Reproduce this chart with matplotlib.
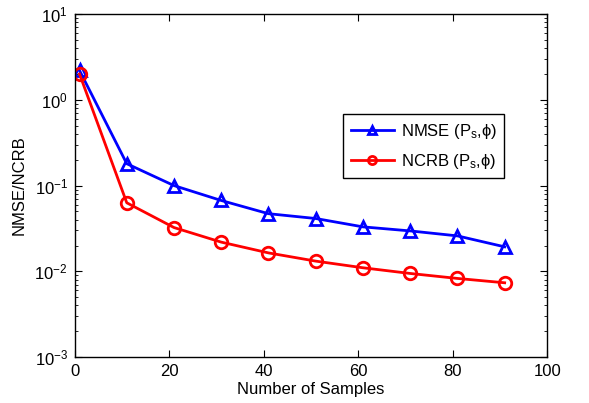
import matplotlib
matplotlib.use("Agg")
import matplotlib.pyplot as plt
import numpy as np

plt.rcParams['font.family'] = ['Liberation Sans', 'DejaVu Sans']
plt.rcParams['mathtext.fontset'] = 'custom'
plt.rcParams['mathtext.rm'] = 'Liberation Sans'
plt.rcParams['mathtext.it'] = 'Liberation Sans:italic'
plt.rcParams['font.size'] = 12

samples = [1, 11, 21, 31, 41, 51, 61, 71, 81, 91]
nmse = [2.2, 0.18, 0.10, 0.067, 0.047, 0.0413, 0.033, 0.0296, 0.0259, 0.0193]
ncrb = [2.0, 0.063, 0.0324, 0.0219, 0.0164, 0.01315, 0.011, 0.00944, 0.00826, 0.00735]

fig = plt.figure(figsize=(5.89, 4.03), dpi=100)
ax = fig.add_axes([0.127, 0.114, 0.802, 0.851])

ax.semilogy(samples, nmse, color='blue', lw=2, marker='^', ms=9, mfc='none', mew=2,
            label='NMSE (P$_\\mathregular{s}$,ϕ)')
ax.semilogy(samples, ncrb, color='red', lw=2, marker='o', ms=9, mfc='none', mew=2,
            label='NCRB (P$_\\mathregular{s}$,ϕ)')

ax.set_xlim(0, 100)
ax.set_ylim(1e-3, 1e1)
ax.set_xticks([0, 20, 40, 60, 80, 100])
ax.set_xlabel('Number of Samples', labelpad=2)
ax.set_ylabel('NMSE/NCRB', labelpad=6)
ax.tick_params(which='both', direction='in', top=True, right=True)
ax.tick_params(which='major', length=5, pad=5)
ax.tick_params(which='minor', length=2.5)
for s in ax.spines.values():
    s.set_linewidth(1)

leg = ax.legend(loc='upper left', bbox_to_anchor=(0.568, 0.708), fancybox=False,
                edgecolor='black', framealpha=1, handlelength=2.6, borderpad=0.45,
                labelspacing=0.65, markerscale=0.65, fontsize=12, handletextpad=0.4,
                borderaxespad=0)
leg.get_frame().set_linewidth(1)

fig.savefig('out.png', dpi=100)
